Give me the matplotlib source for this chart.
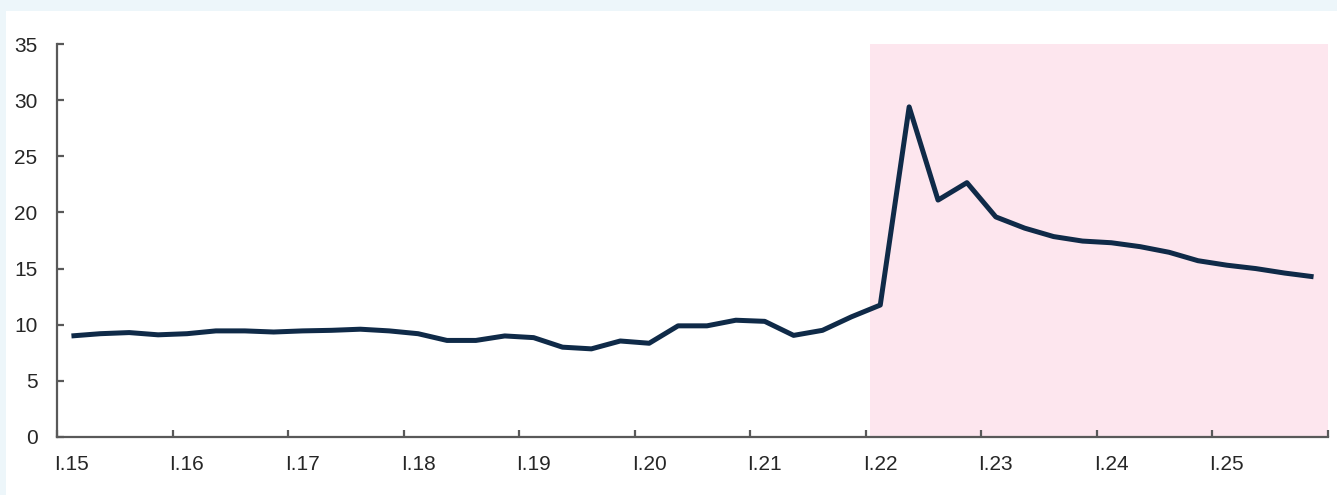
import numpy as np
import matplotlib.pyplot as plt
from matplotlib.patches import Rectangle

plt.rcParams['font.family'] = ['Liberation Sans', 'DejaVu Sans']

# quarterly series, 2015 Q1 .. 2025 Q4
values = [9.0, 9.2, 9.3, 9.1, 9.2, 9.45, 9.45, 9.35,
          9.45, 9.5, 9.6, 9.45, 9.2, 8.6, 8.6, 9.0,
          8.85, 8.0, 7.85, 8.55, 8.35, 9.9, 9.9, 10.4,
          10.3, 9.05, 9.5, 10.7, 11.75, 29.4, 21.1, 22.65,
          19.6, 18.6, 17.85, 17.45, 17.3, 16.95, 16.45, 15.7,
          15.3, 15.0, 14.6, 14.27]
year_labels = ['I.15', 'I.16', 'I.17', 'I.18', 'I.19', 'I.20',
               'I.21', 'I.22', 'I.23', 'I.24', 'I.25']
shade_from = 'I.22'

n = len(values)
x = np.arange(n)
label_pos = np.arange(0, n, 4)

fig = plt.figure(figsize=(13.37, 4.95), dpi=100)
fig.patch.set_facecolor('#edf6fa')
fig.patches.append(Rectangle((6 / 1337, 0), 1, 1 - 11 / 495,
                             transform=fig.transFigure, facecolor='white',
                             edgecolor='none', zorder=-10))

ax = fig.add_axes([57 / 1337, 58 / 495, 1271 / 1337, 393 / 495])
ax.set_facecolor('none')

# shaded period
start = label_pos[year_labels.index(shade_from)] - 0.5
ax.axvspan(start + 0.14, n - 0.5, color='#fde6ee', lw=0, zorder=0)

ax.plot(x, values, color='#0f2a48', lw=3.6, solid_joinstyle='round',
        solid_capstyle='butt', zorder=3)

ax.set_xlim(-0.5, n - 0.5)
ax.set_ylim(0, 35)
ax.set_yticks(np.arange(0, 36, 5))

# ticks on year boundaries, labels on first quarter
ax.set_xticks(np.append(label_pos - 0.5, n - 0.5))
ax.set_xticklabels([])
ax.set_xticks(label_pos, minor=True)
ax.set_xticklabels(year_labels, minor=True)

for s in ['top', 'right']:
    ax.spines[s].set_visible(False)
for s in ['left', 'bottom']:
    ax.spines[s].set_color('#595959')
    ax.spines[s].set_linewidth(1.6)

ax.tick_params(axis='both', which='major', direction='in', length=5,
               width=1.6, color='#595959', labelsize=15, labelcolor='#262626')
ax.tick_params(axis='y', pad=14)
ax.tick_params(axis='x', which='minor', length=0, pad=13,
               labelsize=15, labelcolor='#262626')

fig.savefig('out.png', dpi=100, facecolor=fig.get_facecolor())
